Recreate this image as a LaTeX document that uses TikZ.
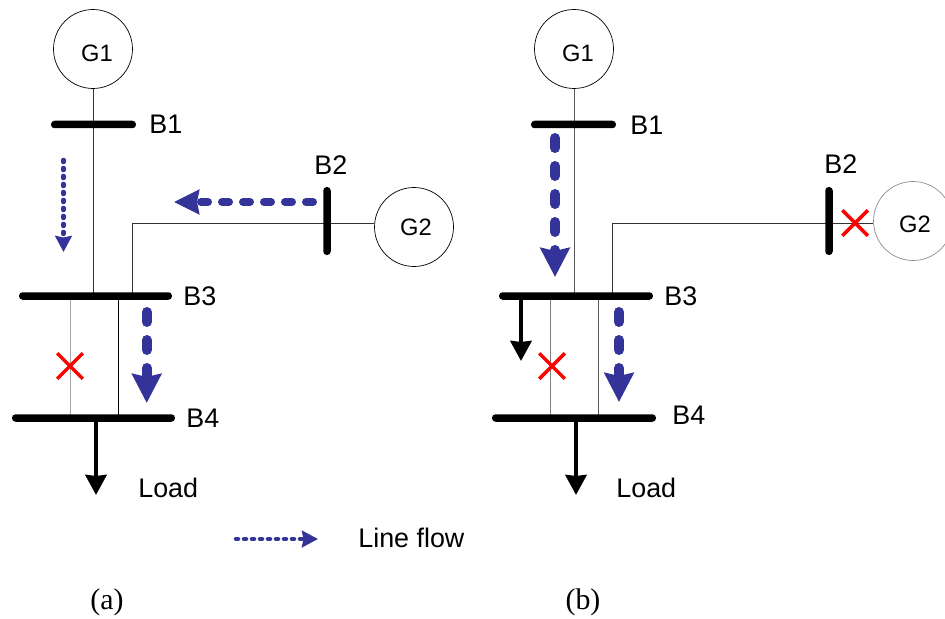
\documentclass[tikz,border=0pt]{standalone}
\usepackage{fontspec}
\setmainfont{Liberation Sans}
\newfontfamily\capfont{Liberation Serif}
\usetikzlibrary{arrows.meta, shapes.misc, backgrounds}
\definecolor{flowblue}{RGB}{51,51,153}
\tikzstyle{gen} = [circle, minimum size=1.58cm, inner sep=0pt, draw=black, line width=0.4pt]
\tikzstyle{gentext} = [inner sep=0pt, font=\fontsize{13.5}{15}\selectfont]
\tikzstyle{hbus} = [rectangle, rounded corners=2pt, minimum height=0.15cm, inner sep=0pt, fill=black]
\tikzstyle{vbus} = [rectangle, rounded corners=2pt, minimum width=0.15cm, minimum height=1.36cm, inner sep=0pt, fill=black]
\tikzstyle{lbl} = [anchor=west, inner sep=0pt, font=\fontsize{15.3}{18}\selectfont]
\tikzstyle{subcap} = [inner sep=0pt, font=\capfont\fontsize{17}{20}\selectfont]
\tikzstyle{wire} = [line width=0.55pt, black!80]
\tikzstyle{offwire} = [line width=0.55pt, black!35]
\tikzstyle{crossmark} = [cross out, draw=red, line width=2pt, minimum size=0.44cm, inner sep=0pt]
\tikzstyle{load} = [line width=0.09cm, -{Stealth[length=0.4cm, width=0.42cm, inset=0.02cm]}]
\tikzstyle{bigflow} = [flowblue, line width=0.2cm, line cap=round, dash pattern=on 0.2cm off 0.36cm, -{Stealth[length=0.58cm, width=0.58cm, inset=0.06cm]}]
\tikzstyle{midflow} = [flowblue, line width=0.16cm, line cap=round, dash pattern=on 0.14cm off 0.28cm, -{Stealth[length=0.5cm, width=0.48cm, inset=0.04cm]}]
\tikzstyle{dotflow} = [flowblue, line width=0.09cm, line cap=round, dash pattern=on 0.04cm off 0.12cm, -{Stealth[length=0.32cm, width=0.33cm, inset=0.03cm]}]
\begin{document}
\begin{tikzpicture}[x=0.02cm, y=-0.02cm]
        \useasboundingbox (0,0) rectangle (945,618);

        \node (g1a) [gen] at (93,49) {};
        \node (g1atext) [gentext] at (97,53) {G1};
        \node (g2a) [gen] at (414,227) {};
        \node (g2atext) [gentext] at (416,227) {G2};
        \node (b1a) [hbus, minimum width=1.7cm] at (93.5,124.5) {};
        \node (b2a) [vbus] at (327,221) {};
        \node (b3a) [hbus, minimum width=3.06cm] at (95.5,296) {};
        \node (b4a) [hbus, minimum width=3.26cm] at (93.5,418) {};
        \node (x1a) [crossmark] at (70,366) {};
        \coordinate (j1a) at (132,223);
        \coordinate (t1a) at (118,340);
        \coordinate (la) at (96,495);

        \node (lb1a) [lbl] at (149,124) {B1};
        \node (lb2a) [lbl] at (314,165) {B2};
        \node (lb3a) [lbl] at (183,296) {B3};
        \node (lb4a) [lbl] at (186,418) {B4};
        \node (lloada) [lbl] at (138,488) {Load};

        \begin{scope}[on background layer]
            \draw [wire] (g1a) -- (g1a |- b3a);
            \draw [wire] (g2a.west |- j1a) -- (j1a) -- (j1a |- b3a);
            \draw [offwire] (x1a |- b3a) -- (x1a |- b4a);
            \draw [wire, black] (t1a |- b3a) -- (t1a |- b4a);
        \end{scope}
        \draw [load] (la |- b4a) -- (la);

        \coordinate (f1s) at (63.5,160);
        \coordinate (f1e) at (63.5,252);
        \coordinate (f2s) at (313,202);
        \coordinate (f2e) at (174,202);
        \coordinate (f3s) at (146.7,312);
        \coordinate (f3e) at (146.7,403);
        \draw [dotflow] (f1s) -- (f1e);
        \draw [midflow] (f2s) -- (f2e);
        \draw [bigflow] (f3s) -- (f3e);

        \node (g1b) [gen] at (574,49) {};
        \node (g1btext) [gentext] at (578,53) {G1};
        \node (g2b) [gen, draw=black!45] at (913,221) {};
        \node (g2btext) [gentext] at (915,224) {G2};
        \node (b1b) [hbus, minimum width=1.7cm] at (573.5,124.5) {};
        \node (b2b) [vbus] at (829,221) {};
        \node (b3b) [hbus, minimum width=3.08cm] at (576,296) {};
        \node (b4b) [hbus, minimum width=3.28cm] at (574,418) {};
        \node (x1b) [crossmark] at (552,366) {};
        \node (x2b) [crossmark] at (855,223) {};
        \coordinate (j1b) at (612,223);
        \coordinate (t1b) at (550,340);
        \coordinate (t2b) at (598,340);
        \coordinate (lb) at (576,495);
        \coordinate (lc) at (521,361);

        \node (lb1b) [lbl] at (630,125) {B1};
        \node (lb2b) [lbl] at (824,164) {B2};
        \node (lb3b) [lbl] at (664,296) {B3};
        \node (lb4b) [lbl] at (672,415) {B4};
        \node (lloadb) [lbl] at (616,488) {Load};

        \begin{scope}[on background layer]
            \draw [wire, black!65] (g1b) -- (g1b |- b3b);
            \draw [wire] (g2b.west |- j1b) -- (j1b) -- (j1b |- b3b);
            \draw [offwire, black!50] (t1b |- b3b) -- (t1b |- b4b.south);
            \draw [wire, black!65] (t2b |- b3b) -- (t2b |- b4b.south);
        \end{scope}
        \draw [load] (lb |- b4b) -- (lb);
        \draw [load] (lc |- b3b) -- (lc);

        \coordinate (f1bs) at (555,138);
        \coordinate (f1be) at (555,277);
        \coordinate (f2bs) at (619,312);
        \coordinate (f2be) at (619,402);
        \draw [bigflow] (f1bs) -- (f1be);
        \draw [bigflow] (f2bs) -- (f2be);

        \coordinate (ks) at (236,539);
        \coordinate (ke) at (318,539);
        \draw [dotflow] (ks) -- (ke);
        \node (lkey) [lbl] at (358,538) {Line flow};

        \node (capa) [subcap] at (107,602) {(a)};
        \node (capb) [subcap] at (583,602) {(b)};
    \end{tikzpicture}
\end{document}
